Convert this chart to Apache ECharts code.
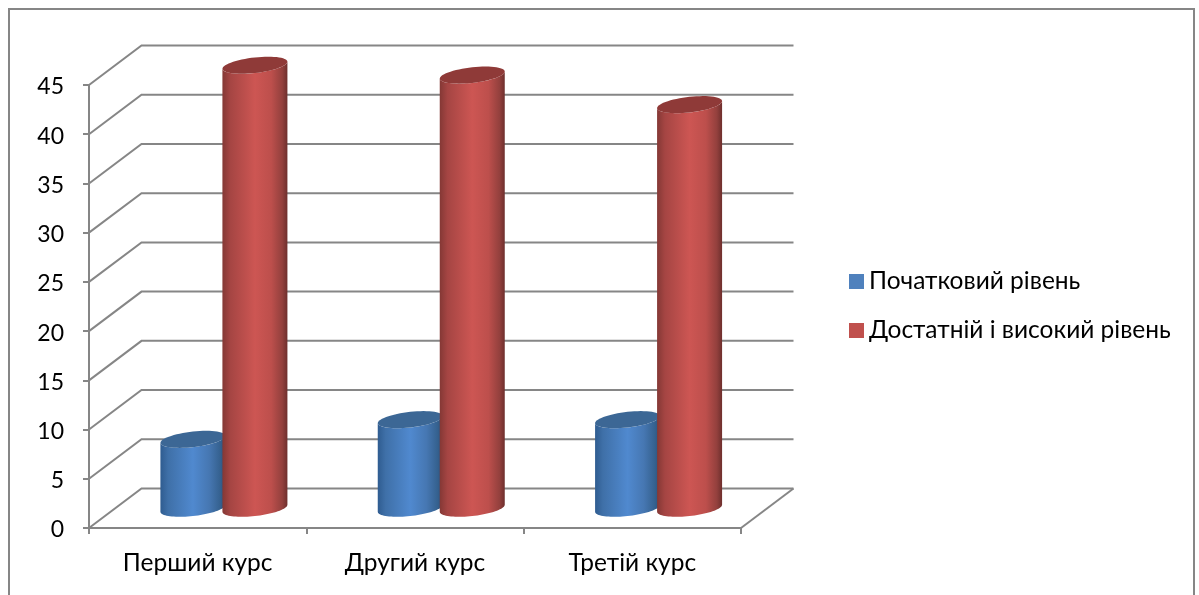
<!DOCTYPE html>
<html>
<head>
<meta charset="utf-8">
<style>html,body{margin:0;padding:0;background:#fff}#c{width:1199px;height:595px}</style>
<script src="https://cdn.jsdelivr.net/npm/echarts@6/dist/echarts.min.js"></script>
</head>
<body>
<div id="c"></div>
<script>
const categories = ['Перший курс', 'Другий курс', 'Третій курс'];
const initialLevel = [7, 9, 9];
const highLevel = [45, 44, 41];
const yTicks = [0, 5, 10, 15, 20, 25, 30, 35, 40, 45];
const seriesNames = ['Початковий рівень', 'Достатній і високий рівень'];

const FONT = 'Lato, "Noto Sans", sans-serif';
const FS = 24.5;
const DX = 52.5, DY = 39.5, GREY = '#868686';
const RX = 32.5, RY = 7.8, TILT = 3.5, SHIFT = 31;

function ellipsePts(cx, cy, from, to, n) {
  const p = [];
  for (let i = 0; i <= n; i++) {
    const t = from + (to - from) * i / n;
    p.push([cx + RX * Math.cos(t), cy + RY * Math.sin(t) - TILT * Math.cos(t)]);
  }
  return p;
}
function grad(stops) {
  return {type: 'linear', x: 0, y: 0, x2: 1, y2: 0,
    colorStops: stops.map(s => ({offset: s[0], color: s[1]}))};
}
function cylinder(sign, stops, topColor) {
  return function (params, api) {
    const base = api.coord([api.value(0), 0]);
    const top = api.coord([api.value(0), api.value(1)]);
    const cx = base[0] + DX / 2 + sign * SHIFT;
    const by = base[1] - DY / 2;
    const ty = top[1] - DY / 2;
    const body = ellipsePts(cx, by, 0, Math.PI, 40).concat(ellipsePts(cx, ty, Math.PI, 0, 40));
    return {type: 'group', children: [
      {type: 'polygon', shape: {points: body}, style: {fill: grad(stops)}},
      {type: 'polygon', shape: {points: ellipsePts(cx, ty, 0, Math.PI * 2, 60)}, style: {fill: topColor}}
    ]};
  };
}
function wallItem(params, api) {
  const y = api.coord([0, api.value(0)])[1];
  const cs = params.coordSys;
  const x0 = cs.x, x1 = cs.x + cs.width;
  const kids = [{type: 'polyline',
    shape: {points: [[x0, y], [x0 + DX, y - DY], [x1 + DX, y - DY]]},
    style: {fill: null, stroke: GREY, lineWidth: 2}}];
  if (api.value(0) === 0) {
    kids.push({type: 'line', shape: {x1: x1, y1: y, x2: x1 + DX, y2: y - DY},
      style: {stroke: GREY, lineWidth: 2}});
  }
  return {type: 'group', children: kids};
}

const chart = echarts.init(document.getElementById('c'), null, {renderer: 'canvas'});
chart.setOption({
  animation: false,
  backgroundColor: '#fff',
  textStyle: {fontFamily: FONT},
  graphic: [{type: 'rect', shape: {x: 9, y: 9, width: 1185, height: 600},
    style: {fill: null, stroke: GREY, lineWidth: 2}, silent: true, z: -1}],
  grid: {left: 89, right: 458, top: 85, bottom: 67},
  legend: {
    orient: 'vertical', left: 844, top: 264, itemWidth: 15, itemHeight: 15, itemGap: 24,
    data: seriesNames.map(n => ({name: n, icon: 'rect'})),
    selectedMode: false,
    textStyle: {fontSize: FS, color: '#000', fontFamily: FONT}
  },
  xAxis: {
    type: 'category', data: categories,
    axisLine: {lineStyle: {color: GREY, width: 2}},
    axisTick: {show: true, length: 6, lineStyle: {color: GREY, width: 2}},
    axisLabel: {fontSize: FS, color: '#000', margin: 23, fontFamily: FONT},
    splitLine: {show: false}
  },
  yAxis: {
    type: 'value', min: 0, max: 45, interval: 5,
    axisLine: {show: true, lineStyle: {color: GREY, width: 2}},
    axisTick: {show: true, length: 6, lineStyle: {color: GREY, width: 2}},
    axisLabel: {fontSize: 23, color: '#000', margin: 25, fontFamily: FONT, verticalAlign: 'top', lineHeight: 4},
    splitLine: {show: false}
  },
  series: [
    {type: 'custom', silent: true, z: 1, data: yTicks.map(v => [v]), encode: {y: 0},
     renderItem: wallItem, tooltip: {show: false}},
    {type: 'custom', name: seriesNames[0], z: 2, itemStyle: {color: '#4f81bd'},
     data: initialLevel.map((v, i) => [i, v]), encode: {x: 0, y: 1},
     renderItem: cylinder(-1, [[0, '#2f5c90'], [0.12, '#3f70a8'], [0.5, '#5089cf'], [0.75, '#4677b2'], [0.92, '#35618f'], [1, '#2a4f78']], '#3c6795')},
    {type: 'custom', name: seriesNames[1], z: 3, itemStyle: {color: '#c0504d'},
     data: highLevel.map((v, i) => [i, v]), encode: {x: 0, y: 1},
     renderItem: cylinder(1, [[0, '#843835'], [0.12, '#a54543'], [0.5, '#cd5653'], [0.75, '#bd4f4c'], [0.92, '#93403d'], [1, '#6e2f2d']], '#8f3a38')}
  ]
});
</script>
</body>
</html>
